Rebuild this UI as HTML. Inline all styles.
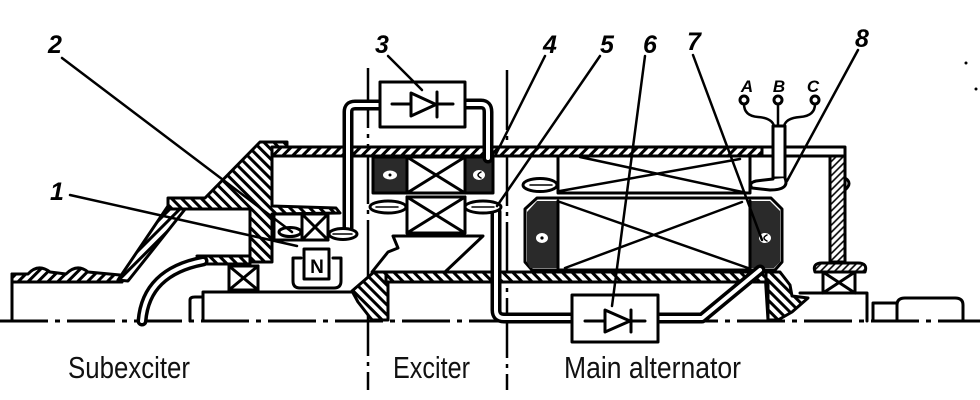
<!DOCTYPE html>
<html><head><meta charset="utf-8"><style>html,body{margin:0;padding:0;background:#fff}svg{display:block}</style></head>
<body>
<svg width="980" height="400" viewBox="0 0 980 400" xmlns="http://www.w3.org/2000/svg">
<defs>
<pattern id="hf" width="7" height="7" patternUnits="userSpaceOnUse" patternTransform="rotate(45)"><rect width="7" height="7" fill="#fff"/><line x1="2" y1="0" x2="2" y2="7" stroke="#000" stroke-width="3"/></pattern>
<pattern id="hb" width="7" height="7" patternUnits="userSpaceOnUse" patternTransform="rotate(-45)"><rect width="7" height="7" fill="#fff"/><line x1="2" y1="0" x2="2" y2="7" stroke="#000" stroke-width="3"/></pattern>
<pattern id="hl" width="5" height="5" patternUnits="userSpaceOnUse" patternTransform="rotate(45)"><rect width="5" height="5" fill="#fff"/><line x1="2" y1="0" x2="2" y2="5" stroke="#000" stroke-width="1.6"/></pattern>
</defs>
<rect width="980" height="400" fill="#fff"/>
<g fill="none" stroke="#000" stroke-width="3" stroke-linejoin="round" stroke-linecap="round">
<!-- centerline -->
<line x1="0" y1="321" x2="980" y2="321" stroke-dasharray="48 7 5 7" stroke-linecap="butt"/>
<!-- vertical dividers -->
<line x1="368" y1="68" x2="368" y2="390" stroke-dasharray="60 6 4 6" stroke-linecap="butt" stroke-width="2.5"/>
<line x1="507" y1="70" x2="507" y2="390" stroke-dasharray="60 6 4 6" stroke-linecap="butt" stroke-width="2.5"/>

<!-- left base -->
<path d="M12,321 V274"/>
<path d="M12,274 L28,274 Q38,263 50,272 L66,274 Q77,263 88,272 L120,275 L122,282 L12,282 Z" fill="url(#hf)"/>
<path d="M118,280 L168,206 L186,208 L128,281 Z" fill="url(#hf)"/>

<!-- subexciter flange -->
<path d="M168,198 L205,198 L260,142 L287,142 L287,150 L272,152 L272,206 L336,208 L340,213 L272,214 L272,262 L250,262 L250,209 L168,209 Z" fill="url(#hb)"/>
<path d="M197,256 L250,256 L250,264 L203,264 Z" fill="url(#hb)"/>
<!-- fan curve -->
<path d="M142,321 Q146,272 203,261" stroke-width="11"/>
<path d="M142,321 Q146,272 203,261" stroke="#fff" stroke-width="4"/>
<!-- shaft step -->
<path d="M190,321 V300 Q190,297 195,297 H203"/>
<path d="M203,321 V292 H354"/>
<!-- bearing left -->
<rect x="229" y="266" width="29" height="24"/>
<path d="M229,266 L258,290 M258,266 L229,290"/>
<!-- subexciter coil -->
<rect x="274" y="214" width="28" height="26" fill="#fff"/>
<ellipse cx="290" cy="232" rx="11" ry="4.5"/>
<rect x="302" y="214" width="26" height="26" fill="#fff"/>
<path d="M302,214 L328,240 M328,214 L302,240"/>
<!-- N magnet -->
<path d="M301,258 H293 V281 Q293,288 300,288 H334 Q341,288 341,281 V258 H333"/>
<rect x="304" y="249" width="25" height="30" fill="#fff"/>

<!-- housing top strip -->
<rect x="272" y="147" width="490" height="9" fill="url(#hf)"/>
<rect x="762" y="147" width="83" height="9" fill="#fff"/>
<!-- right wall -->
<rect x="830" y="156" width="15" height="106" fill="url(#hl)"/>
<path d="M845,178 Q853,183 845,190"/>
<path d="M815,272 Q812,263 822,263 H858 Q868,263 865,272 Z" fill="url(#hl)"/>
<rect x="823" y="272" width="32" height="21" fill="#fff"/>
<path d="M823,272 L855,293 M855,272 L823,293"/>
<!-- right shaft -->
<path d="M800,293 H867 V321 M873,321 V303 H897"/>
<path d="M897,321 V305 Q897,298 905,298 H955 Q963,298 963,305 V321"/>
<path d="M765,272 L780,272 L790,285 L792,296 L808,298 L792,312 L778,320 L768,320 Z" fill="url(#hb)"/>

<!-- exciter stator -->
<rect x="373" y="157" width="34" height="36" fill="#2a2a2a"/>
<ellipse cx="390" cy="175" rx="7" ry="4.5" fill="#fff" stroke="none"/>
<circle cx="390" cy="175" r="1.5" fill="#000" stroke="none"/>
<rect x="407" y="157" width="58" height="36" fill="#fff"/>
<path d="M407,157 L465,193 M465,157 L407,193"/>
<rect x="465" y="157" width="28" height="36" fill="#2a2a2a"/>
<ellipse cx="479" cy="175" rx="6" ry="5" fill="#fff" stroke="none"/>
<path d="M481,172 Q475,175 481,178" stroke-width="1.5"/>
<!-- exciter rotor -->
<ellipse cx="388" cy="207" rx="18" ry="6" fill="#fff"/>
<path d="M376,207 H398" stroke-width="1.5"/>
<rect x="407" y="197" width="58" height="36" fill="#fff"/>
<path d="M407,197 L465,233 M465,197 L407,233"/>
<polygon points="393,236 483,236 445,272 372,272 388,252 398,248" fill="#fff"/>
<path d="M352,291 L374,272 L388,272 L388,320 L372,320 L358,302 Z" fill="url(#hb)"/>
<!-- rotor sleeve strip -->
<rect x="386" y="272" width="380" height="10" fill="url(#hb)"/>
<path d="M768,282 V321"/>

<!-- main stator -->
<path d="M558,156 V193 H750 V156"/>
<path d="M580,157 L747,193 M560,191 L740,159" stroke-width="2.5"/>
<ellipse cx="540" cy="185" rx="17" ry="6.5" fill="#fff"/>
<path d="M530,185 H552" stroke-width="1.5"/>
<!-- main rotor -->
<path d="M537,198 H771 L782,209 V262 L775,270 H532 L525,262 V209 Z" fill="#fff"/>
<path d="M527,212 L537,201 H558 V268 H530 L527,262 Z" fill="#2a2a2a" stroke="none"/>
<path d="M750,201 H770 L780,211 V262 L774,268 H750 Z" fill="#2a2a2a" stroke="none"/>
<ellipse cx="542" cy="238" rx="6" ry="5" fill="#fff" stroke="none"/>
<circle cx="542" cy="238" r="1.6" fill="#000" stroke="none"/>
<ellipse cx="765" cy="238" rx="6" ry="5" fill="#fff" stroke="none"/>
<path d="M767,235 Q761,238 767,241" stroke-width="1.5"/>
<path d="M558,201 V268 M750,201 V268"/>
<path d="M560,202 L748,268 M565,268 L742,202" stroke-width="2.5"/>

<!-- terminal ABC -->
<circle cx="744" cy="100" r="4" fill="#fff"/>
<circle cx="778" cy="100" r="4" fill="#fff"/>
<circle cx="815" cy="100" r="4" fill="#fff"/>
<path d="M744,104 Q744,116 758,117 Q772,118 774,126" stroke-width="2.5"/>
<path d="M778,104 V126" stroke-width="2.5"/>
<path d="M815,104 Q815,116 800,117 Q786,118 784,126" stroke-width="2.5"/>
<rect x="773" y="126" width="12" height="52" fill="#fff"/>
<path d="M785,178 Q790,190 770,190 L752,188 Q748,183 756,181 L773,179" fill="#fff"/>

<!-- wires -->
<path d="M348,228 V112 Q348,105 355,105 H380" stroke-width="11"/>
<path d="M348,228 V112 Q348,105 355,105 H380" stroke="#fff" stroke-width="4"/>
<ellipse cx="343" cy="234" rx="14" ry="5.5" fill="#fff"/>
<path d="M333,234 H352" stroke-width="1.5"/>
<path d="M465,104 H481 Q488,104 488,112 V158" stroke-width="11"/>
<path d="M465,104 H481 Q488,104 488,112 V158" stroke="#fff" stroke-width="4"/>
<path d="M496,212 V310 Q496,318 504,318 H572" stroke-width="11"/>
<path d="M496,212 V310 Q496,318 504,318 H572" stroke="#fff" stroke-width="4"/>
<ellipse cx="483" cy="207" rx="18" ry="6" fill="#fff"/>
<path d="M472,207 H494" stroke-width="1.5"/>
<path d="M658,318 H702 L760,270" stroke-width="11"/>
<path d="M658,318 H702 L760,270" stroke="#fff" stroke-width="4"/>

<!-- diode box 3 -->
<rect x="380" y="82" width="85" height="45" fill="#fff"/>
<path d="M392,104 H453"/>
<polygon points="411,93 411,116 436,104.5" fill="#fff"/>
<path d="M437,92 V117"/>
<!-- diode box 6 -->
<rect x="572" y="295" width="86" height="47" fill="#fff"/>
<path d="M585,321 H645"/>
<polygon points="605,310 605,332 630,321" fill="#fff"/>
<path d="M631,310 V332"/>

<!-- leaders -->
<g stroke-width="2.5">
<path d="M62,58 L292,232"/>
<path d="M70,195 L297,246"/>
<path d="M388,56 L422,90"/>
<path d="M545,56 L495,156"/>
<path d="M600,56 L497,206"/>
<path d="M645,56 L612,306"/>
<path d="M693,55 L762,240"/>
<path d="M858,50 L787,181"/>
</g>
<circle cx="966" cy="63" r="1.5" fill="#000" stroke="none"/>
<circle cx="976" cy="89" r="1.5" fill="#000" stroke="none"/>
</g>

<g font-family="Liberation Sans, sans-serif" font-weight="bold" font-style="italic" font-size="25" fill="#000" text-anchor="middle">
<text x="55" y="53">2</text>
<text x="57" y="200">1</text>
<text x="382" y="53">3</text>
<text x="550" y="53">4</text>
<text x="607" y="53">5</text>
<text x="650" y="53">6</text>
<text x="694" y="50">7</text>
<text x="862" y="47">8</text>
<text x="747" y="92" font-size="17">A</text>
<text x="779" y="92" font-size="17">B</text>
<text x="813" y="92" font-size="17">C</text>
<text x="317" y="273" font-size="19" font-style="normal">N</text>
</g>
<g font-family="Liberation Sans, sans-serif" font-size="31" fill="#111">
<text x="68" y="378" textLength="122" lengthAdjust="spacingAndGlyphs">Subexciter</text>
<text x="393" y="378" textLength="77" lengthAdjust="spacingAndGlyphs">Exciter</text>
<text x="564" y="378" textLength="177" lengthAdjust="spacingAndGlyphs">Main alternator</text>
</g>
</svg>
</body></html>
